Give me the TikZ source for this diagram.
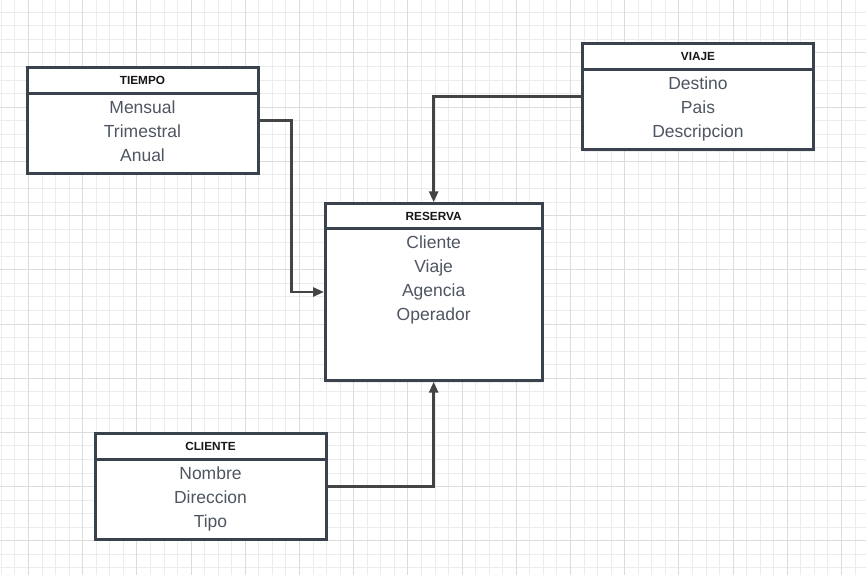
\documentclass[tikz,border=0pt]{standalone}
\usepackage{fontspec}
\setmainfont{Liberation Sans}
\usetikzlibrary{arrows.meta,calc,shadows}
\definecolor{bordercol}{RGB}{58,66,78}
\definecolor{linecol}{RGB}{68,68,68}
\definecolor{bodytext}{RGB}{78,86,98}
\definecolor{hdrtext}{RGB}{22,22,22}
\definecolor{gridminor}{RGB}{236,236,236}
\definecolor{gridmajor}{RGB}{220,220,220}
\tikzset{
  entity/.style={draw=bordercol, line width=3pt, fill=white, inner sep=0pt, outer sep=0pt,
    anchor=north west, drop shadow={shadow xshift=0pt, shadow yshift=-2pt, opacity=0.12}},
  hdr/.style={draw=bordercol, line width=3pt, inner sep=0pt, outer sep=0pt, anchor=north,
    minimum height=26pt, font=\bfseries\fontsize{11.8}{13}\selectfont, text=hdrtext},
  attrs/.style={inner sep=0pt, outer sep=0pt, anchor=north, align=center, text=bodytext,
    font=\fontsize{17.5}{24}\selectfont},
  conn/.style={draw=linecol, line width=2.7pt},
  arr/.style={conn, -{Triangle[length=11pt,width=9pt]}, shorten >=1pt}
}
\begin{document}
\begin{tikzpicture}[x=1pt,y=-1pt]
\useasboundingbox (0,0) rectangle (866,575);
\fill[white] (0,0) rectangle (866,575);
% grid
\foreach \k in {-2,...,61} {
  \pgfmathsetmacro{\gx}{28.5+13.55*\k}
  \draw[gridminor, line width=1pt] (\gx,0) -- (\gx,575);
}
\foreach \k in {-3,...,39} {
  \pgfmathsetmacro{\gy}{53+13.55*\k}
  \draw[gridminor, line width=1pt] (0,\gy) -- (866,\gy);
}
\foreach \k in {0,...,15} {
  \pgfmathsetmacro{\gx}{28.5+54.2*\k}
  \draw[gridmajor, line width=1pt] (\gx,0) -- (\gx,575);
}
\foreach \k in {0,...,9} {
  \pgfmathsetmacro{\gy}{53+54.2*\k}
  \draw[gridmajor, line width=1pt] (0,\gy) -- (866,\gy);
}
% TIEMPO
\node[entity, minimum width=231pt, minimum height=106pt] (tiempo) at (27,67.3) {};
\node[hdr, minimum width=231pt] (tiempoH) at (tiempo.north) {TIEMPO};
\node[attrs] (tiempoA) at ($(tiempoH.south)+(0,7.4)$) {Mensual\\Trimestral\\Anual};
% VIAJE
\node[entity, minimum width=231pt, minimum height=105.5pt] (viaje) at (582.5,44) {};
\node[hdr, minimum width=231pt, minimum height=25.5pt] (viajeH) at (viaje.north) {VIAJE};
\node[attrs] (viajeA) at ($(viajeH.south)+(0,7.4)$) {Destino\\Pais\\Descripcion};
% RESERVA
\node[entity, minimum width=217.3pt, minimum height=177.4pt] (reserva) at (325,203.3) {};
\node[hdr, minimum width=217.3pt, minimum height=25.5pt] (reservaH) at (reserva.north) {RESERVA};
\node[attrs] (reservaA) at ($(reservaH.south)+(0,7.2)$) {Cliente\\Viaje\\Agencia\\Operador};
% CLIENTE
\node[entity, minimum width=231pt, minimum height=106pt] (cliente) at (95,433.3) {};
\node[hdr, minimum width=231pt, minimum height=25.7pt] (clienteH) at (cliente.north) {CLIENTE};
\node[attrs] (clienteA) at ($(clienteH.south)+(0,7.4)$) {Nombre\\Direccion\\Tipo};
% connectors
\draw[arr] (tiempo.east) -| ($(tiempo.east)!0.5!(reserva.west)$) |- (reserva.west);
\draw[arr] (viaje.west) -| (reserva.north);
\draw[arr] (cliente.east) -| (reserva.south);
\end{tikzpicture}
\end{document}
